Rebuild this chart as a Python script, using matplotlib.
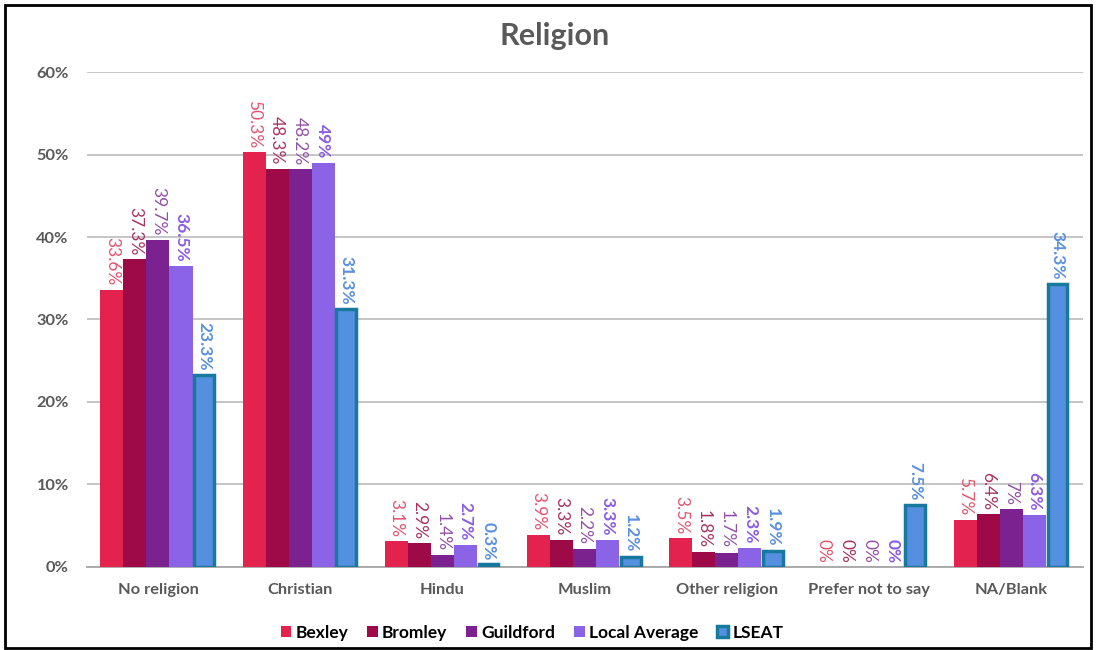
import numpy as np
import matplotlib.pyplot as plt
from matplotlib.patches import Rectangle

categories = ['No religion', 'Christian', 'Hindu', 'Muslim', 'Other religion',
              'Prefer not to say', 'NA/Blank']
series_names = ['Bexley', 'Bromley', 'Guildford', 'Local Average', 'LSEAT']
bexley = [33.6, 50.3, 3.1, 3.9, 3.5, 0, 5.7]
bromley = [37.3, 48.3, 2.9, 3.3, 1.8, 0, 6.4]
guildford = [39.7, 48.2, 1.4, 2.2, 1.7, 0, 7]
local_avg = [36.5, 49, 2.7, 3.3, 2.3, 0, 6.3]
lseat = [23.3, 31.3, 0.3, 1.2, 1.9, 7.5, 34.3]
yticks = [0, 10, 20, 30, 40, 50, 60]

plt.rcParams['font.family'] = ['Lato', 'DejaVu Sans']

bar_colors = ['#E3224E', '#9E0948', '#7B2190', '#8B63E6', '#5590E0']
label_colors = ['#E5536F', '#A8325F', '#9450A8', '#8B5CE6', '#5A90E0']
label_bold = [False, False, False, True, True]

fig = plt.figure(figsize=(10.99, 6.5), dpi=100)
ax = fig.add_axes([0.079, 0.128, 0.906, 0.761])

x = np.arange(len(categories))
w = 0.162
all_series = [bexley, bromley, guildford, local_avg, lseat]
for i, (name, vals) in enumerate(zip(series_names, all_series)):
    pos = x + (i - 2) * w
    if name == 'LSEAT':
        ax.bar(pos, vals, w * 0.86, color=bar_colors[i], edgecolor='#17799E',
               linewidth=2.5, label=name, zorder=3)
    else:
        ax.bar(pos, vals, w, color=bar_colors[i], label=name, zorder=3)
    for px, v in zip(pos, vals):
        ax.annotate(f'{v:g}%', (px, v), xytext=(0, 3), textcoords='offset points',
                    rotation=-90, ha='center', va='bottom', fontsize=12.5,
                    color=label_colors[i],
                    fontweight='bold' if label_bold[i] else 'normal')

ax.set_xlim(-0.5, len(categories) - 0.5)
ax.set_ylim(0, 60)
ax.set_yticks(yticks)
ax.set_yticklabels([f'{t}%' for t in yticks])
ax.set_xticks(x)
ax.set_xticklabels(categories)
ax.tick_params(axis='both', length=0, labelsize=11.8, labelcolor='#595959')
ax.tick_params(axis='x', pad=12)
ax.tick_params(axis='y', pad=13)
for lbl in ax.get_xticklabels() + ax.get_yticklabels():
    lbl.set_fontweight('bold')
ax.yaxis.grid(True, color='#C0C0C0', linewidth=1.3, zorder=0)
for s in ['top', 'right', 'left']:
    ax.spines[s].set_visible(False)
ax.spines['bottom'].set_color('#A6A6A6')
ax.spines['bottom'].set_linewidth(1.3)

fig.text(0.505, 0.945, 'Religion', ha='center', va='center', fontsize=22,
         fontweight='bold', color='#595959')

leg = fig.legend(loc='center', bbox_to_anchor=(0.484, 0.026), ncol=5,
                 frameon=False, handlelength=0.6, handleheight=0.6,
                 handletextpad=0.25, columnspacing=1.1,
                 prop={'size': 12.5, 'weight': 'bold'})

fig.patches.append(Rectangle((0.005, 0.003), 0.988, 0.99, transform=fig.transFigure,
                             fill=False, edgecolor='black', linewidth=2))

fig.savefig('out.png', dpi=100)
